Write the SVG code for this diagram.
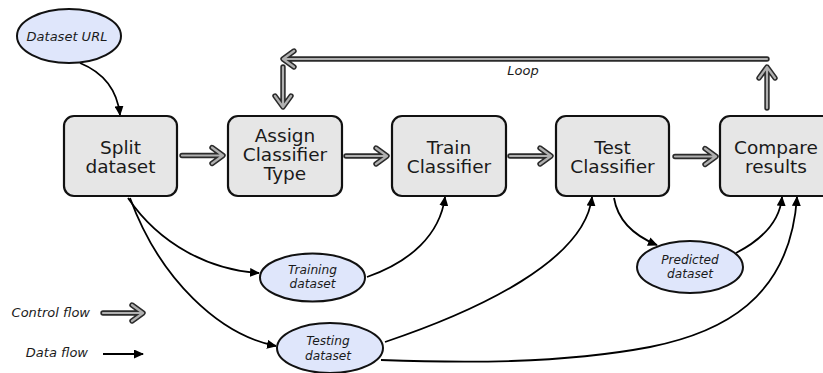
<svg xmlns="http://www.w3.org/2000/svg" xmlns:xlink="http://www.w3.org/1999/xlink" width="823" height="373" viewBox="0 0 823 373">
  <style>
    .box { fill: #e6e6e6; stroke: #111; stroke-width: 2.2; }
    .data-node { fill: #dfe6fb; stroke: #111; stroke-width: 2; }
    .box-label { font-family: "DejaVu Sans", Verdana, sans-serif; font-size: 18.5px; fill: #1a1a1a; text-anchor: middle; }
    .data-label { font-family: "DejaVu Sans", Verdana, sans-serif; font-size: 13px; font-style: italic; fill: #1a1a1a; text-anchor: middle; }
    .pair-label { font-family: "DejaVu Sans", Verdana, sans-serif; font-size: 12.2px; font-style: italic; fill: #1a1a1a; text-anchor: middle; }
    .legend-label { font-family: "DejaVu Sans", Verdana, sans-serif; font-size: 13px; font-style: italic; fill: #1a1a1a; text-anchor: end; }
    .ctl-out { fill: none; stroke: #2b2b2b; stroke-width: 5.4; stroke-linecap: round; stroke-linejoin: round; }
    .ctl-in { fill: none; stroke: #b0b0b0; stroke-width: 2.2; stroke-linecap: round; stroke-linejoin: round; }
    .data { fill: none; stroke: #000; stroke-width: 1.8; marker-end: url(#head); }
  </style>
  <defs>
    <marker id="head" markerUnits="userSpaceOnUse" markerWidth="10" markerHeight="9" refX="9" refY="4.5" orient="auto">
      <path d="M0,0 L10,4.5 L0,9 z" fill="#000"/>
    </marker>
    <!-- control-flow arrow shapes: drawn twice (dark outline, light core) -->
    <path id="c-split-assign" d="M182,155.5 H222 M212,147.5 L223,155.5 L212,163.5"/>
    <path id="c-assign-train" d="M346,156 H386 M376,148 L387,156 L376,164"/>
    <path id="c-train-test" d="M510,156 H550 M540,148 L551,156 L540,164"/>
    <path id="c-test-compare" d="M675,156.5 H715 M705,148.5 L716,156.5 L705,164.5"/>
    <path id="c-loop-up" d="M767,108 V68 M759,78 L767,67 L775,78"/>
    <path id="c-loop-back" d="M767,59 H284 M294,51 L283,59 L294,67"/>
    <path id="c-loop-down" d="M283,67 V106 M275,96 L283,107 L291,96"/>
    <path id="c-legend" d="M103,313 H142 M132,305 L143,313 L132,321"/>
  </defs>

  <!-- connectors -->
  <g id="connectors">
    <g id="control-flow">
      <use xlink:href="#c-split-assign" class="ctl-out"/>
      <use xlink:href="#c-split-assign" class="ctl-in"/>
      <use xlink:href="#c-assign-train" class="ctl-out"/>
      <use xlink:href="#c-assign-train" class="ctl-in"/>
      <use xlink:href="#c-train-test" class="ctl-out"/>
      <use xlink:href="#c-train-test" class="ctl-in"/>
      <use xlink:href="#c-test-compare" class="ctl-out"/>
      <use xlink:href="#c-test-compare" class="ctl-in"/>
      <use xlink:href="#c-loop-up" class="ctl-out"/>
      <use xlink:href="#c-loop-up" class="ctl-in"/>
      <use xlink:href="#c-loop-back" class="ctl-out"/>
      <use xlink:href="#c-loop-back" class="ctl-in"/>
      <use xlink:href="#c-loop-down" class="ctl-out"/>
      <use xlink:href="#c-loop-down" class="ctl-in"/>
    </g>
    <g id="data-flow">
      <path class="data" d="M80,63 C102,72 117,88 120,115"/>
      <path class="data" d="M128,198 C160,245 210,270 259,273"/>
      <path class="data" d="M130,198 C160,280 220,335 276,346"/>
      <path class="data" d="M367,277 C410,262 440,235 445,197"/>
      <path class="data" d="M385,342 C480,310 585,260 592,197"/>
      <path class="data" d="M381,360 C460,363 560,364 650,347 C720,333 790,300 797,197"/>
      <path class="data" d="M614,198 C618,222 635,236 657,245"/>
      <path class="data" d="M736,253 C765,238 780,220 782,197"/>
    </g>
    <text class="data-label" x="523" y="75">Loop</text>
  </g>

  <!-- data nodes -->
  <g id="dataset-url">
    <ellipse class="data-node" cx="69" cy="36" rx="52" ry="27"/>
    <text class="data-label" x="67" y="41">Dataset URL</text>
  </g>
  <g id="training-dataset">
    <ellipse class="data-node" cx="312.5" cy="277.5" rx="52.5" ry="24"/>
    <text class="pair-label" x="312.5" y="273.5">Training</text>
    <text class="pair-label" x="312.5" y="288">dataset</text>
  </g>
  <g id="testing-dataset">
    <ellipse class="data-node" cx="330" cy="348" rx="53" ry="25"/>
    <text class="pair-label" x="328" y="345">Testing</text>
    <text class="pair-label" x="328" y="359.5">dataset</text>
  </g>
  <g id="predicted-dataset">
    <ellipse class="data-node" cx="690" cy="267" rx="53" ry="26"/>
    <text class="pair-label" x="690" y="263.5">Predicted</text>
    <text class="pair-label" x="690" y="278">dataset</text>
  </g>

  <!-- process steps -->
  <g id="split-dataset">
    <rect class="box" x="64" y="116" width="113" height="80" rx="10"/>
    <text class="box-label" x="120.5" y="154">Split</text>
    <text class="box-label" x="120.5" y="173">dataset</text>
  </g>
  <g id="assign-classifier">
    <rect class="box" x="228" y="116" width="114" height="80" rx="10"/>
    <text class="box-label" x="285" y="142">Assign</text>
    <text class="box-label" x="285" y="161">Classifier</text>
    <text class="box-label" x="285" y="180">Type</text>
  </g>
  <g id="train-classifier">
    <rect class="box" x="392" y="116" width="114" height="80" rx="10"/>
    <text class="box-label" x="449" y="153.5">Train</text>
    <text class="box-label" x="449" y="172.5">Classifier</text>
  </g>
  <g id="test-classifier">
    <rect class="box" x="556" y="116" width="113" height="80" rx="10"/>
    <text class="box-label" x="612.5" y="153.5">Test</text>
    <text class="box-label" x="612.5" y="172.5">Classifier</text>
  </g>
  <g id="compare-results">
    <rect class="box" x="720" y="116" width="114" height="80" rx="10"/>
    <text class="box-label" x="776" y="153.5">Compare</text>
    <text class="box-label" x="776" y="172.5">results</text>
  </g>

  <!-- legend -->
  <g id="legend">
    <text class="legend-label" x="90" y="317">Control flow</text>
    <use xlink:href="#c-legend" class="ctl-out"/>
    <use xlink:href="#c-legend" class="ctl-in"/>
    <text class="legend-label" x="88" y="357">Data flow</text>
    <path class="data" d="M103,354 H143"/>
  </g>
</svg>
